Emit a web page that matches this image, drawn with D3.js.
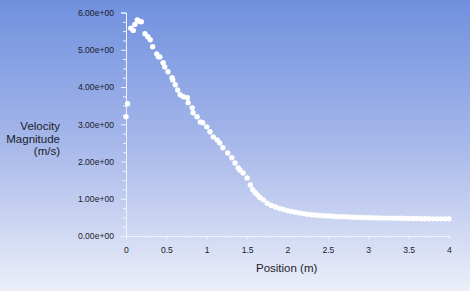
<!DOCTYPE html>
<html>
<head>
    <script src="https://d3js.org/d3.v7.min.js"></script>
    <style>
        body { margin: 0; }
        text { font-family: "Liberation Sans", Arial, sans-serif; }
    </style>
</head>
<body>
<script>
    // data
    const positions = [0.00, 0.02, 0.06, 0.09, 0.11, 0.14, 0.17, 0.19, 0.235, 0.27, 0.30, 0.33, 0.38, 0.40,
        0.42, 0.46, 0.48, 0.52, 0.57, 0.58, 0.61, 0.64, 0.67, 0.71, 0.76, 0.77, 0.82, 0.83, 0.88, 0.92,
        0.95, 1.00, 1.04, 1.08, 1.13, 1.16, 1.20, 1.26, 1.31, 1.35, 1.39, 1.41, 1.45, 1.50, 1.54, 1.57,
        1.60, 1.63, 1.66, 1.70, 1.75, 1.80, 1.85, 1.90, 1.95, 2.00, 2.05, 2.10, 2.15, 2.20, 2.25, 2.30,
        2.35, 2.40, 2.45, 2.50, 2.55, 2.60, 2.65, 2.70, 2.75, 2.80, 2.85, 2.90, 2.95, 3.00, 3.05, 3.10,
        3.15, 3.20, 3.25, 3.30, 3.35, 3.40, 3.45, 3.50, 3.55, 3.60, 3.65, 3.70, 3.75, 3.80, 3.85, 3.90,
        3.95, 4.00];
    const velocities = [3.20, 3.55, 5.58, 5.52, 5.68, 5.80, 5.76, 5.75, 5.43, 5.35, 5.27, 5.08, 4.89, 4.81,
        4.81, 4.65, 4.54, 4.41, 4.25, 4.19, 4.06, 3.92, 3.79, 3.74, 3.71, 3.58, 3.44, 3.31, 3.20, 3.06,
        3.04, 2.93, 2.80, 2.66, 2.58, 2.50, 2.37, 2.23, 2.10, 1.96, 1.83, 1.77, 1.69, 1.56, 1.37, 1.24,
        1.16, 1.10, 1.03, 0.97, 0.88, 0.82, 0.78, 0.74, 0.71, 0.68, 0.66, 0.64, 0.62, 0.60, 0.58, 0.57,
        0.56, 0.55, 0.545, 0.54, 0.53, 0.525, 0.52, 0.515, 0.51, 0.505, 0.50, 0.50, 0.495, 0.49, 0.49, 0.485,
        0.485, 0.48, 0.48, 0.48, 0.475, 0.475, 0.47, 0.47, 0.47, 0.47, 0.465, 0.465, 0.465, 0.46, 0.46, 0.46,
        0.46, 0.46];

    const xTicks = [0, 0.5, 1, 1.5, 2, 2.5, 3, 3.5, 4];
    const xTickLabels = ["0", "0.5", "1", "1.5", "2", "2.5", "3", "3.5", "4"];
    const yTicks = [0, 1, 2, 3, 4, 5, 6];
    const yTickLabels = ["0.00e+00", "1.00e+00", "2.00e+00", "3.00e+00", "4.00e+00", "5.00e+00", "6.00e+00"];
    const yMinor = [0.25, 0.5, 0.75, 1.25, 1.5, 1.75, 2.25, 2.5, 2.75, 3.25, 3.5, 3.75, 4.25, 4.5, 4.75, 5.25, 5.5, 5.75];
    const xMinor = [0.25, 0.75, 1.25, 1.75, 2.25, 2.75, 3.25, 3.75];

    const svgWidth = 470;
    const svgHeight = 291;

    const svg = d3.select("body").append("svg")
        .attr("width", svgWidth)
        .attr("height", svgHeight);

    // background gradient
    const grad = svg.append("defs").append("linearGradient")
        .attr("id", "bg").attr("x1", 0).attr("y1", 0).attr("x2", 0).attr("y2", 1);
    grad.append("stop").attr("offset", "0%").attr("stop-color", "#7090de");
    grad.append("stop").attr("offset", "50%").attr("stop-color", "#a7b8ea");
    grad.append("stop").attr("offset", "100%").attr("stop-color", "#eceff9");
    svg.append("rect").attr("width", svgWidth).attr("height", svgHeight).attr("fill", "url(#bg)");

    const xScale = d3.scaleLinear().domain([0, 4]).range([126, 449]);
    const yScale = d3.scaleLinear().domain([0, 6]).range([236, 12.5]);

    // y axis
    svg.append("g")
        .attr("transform", "translate(126,0)")
        .call(d3.axisLeft(yScale).tickValues(yTicks).tickSize(5).tickPadding(7)
            .tickFormat((d, i) => yTickLabels[i]));
    svg.append("g")
        .attr("transform", "translate(126,0)")
        .call(d3.axisLeft(yScale).tickValues(yMinor).tickSize(3).tickFormat(""))
        .select(".domain").remove();

    // x axis
    svg.append("g")
        .attr("transform", "translate(0,236)")
        .call(d3.axisBottom(xScale).tickValues(xTicks).tickSize(3).tickPadding(8)
            .tickFormat((d, i) => xTickLabels[i]));
    svg.append("g")
        .attr("transform", "translate(0,236)")
        .call(d3.axisBottom(xScale).tickValues(xMinor).tickSize(2).tickFormat(""))
        .select(".domain").remove();

    svg.selectAll(".domain").attr("stroke", "#eef2ff");
    svg.selectAll(".tick line").attr("stroke", "#eef2ff");
    svg.selectAll(".tick text")
        .attr("fill", "#1c1c2a")
        .attr("font-size", "8.6px")
        .attr("font-family", "Liberation Sans, Arial, sans-serif");

    // axis titles
    const yTitle = svg.append("text")
        .attr("text-anchor", "end")
        .attr("font-size", "11.5px")
        .attr("fill", "#1c1c2a");
    ["Velocity", "Magnitude", "(m/s)"].forEach(function(t, i) {
        yTitle.append("tspan").attr("x", 60).attr("y", 130 + i * 12.5).text(t);
    });

    svg.append("text")
        .attr("x", 256)
        .attr("y", 272)
        .attr("font-size", "11.5px")
        .attr("fill", "#1c1c2a")
        .text("Position (m)");

    // points
    positions.forEach(function(p, i) {
        svg.append("circle")
            .attr("cx", xScale(p))
            .attr("cy", yScale(velocities[i]))
            .attr("r", 2.7)
            .attr("fill", "white");
    });
</script>
</body>
</html>
